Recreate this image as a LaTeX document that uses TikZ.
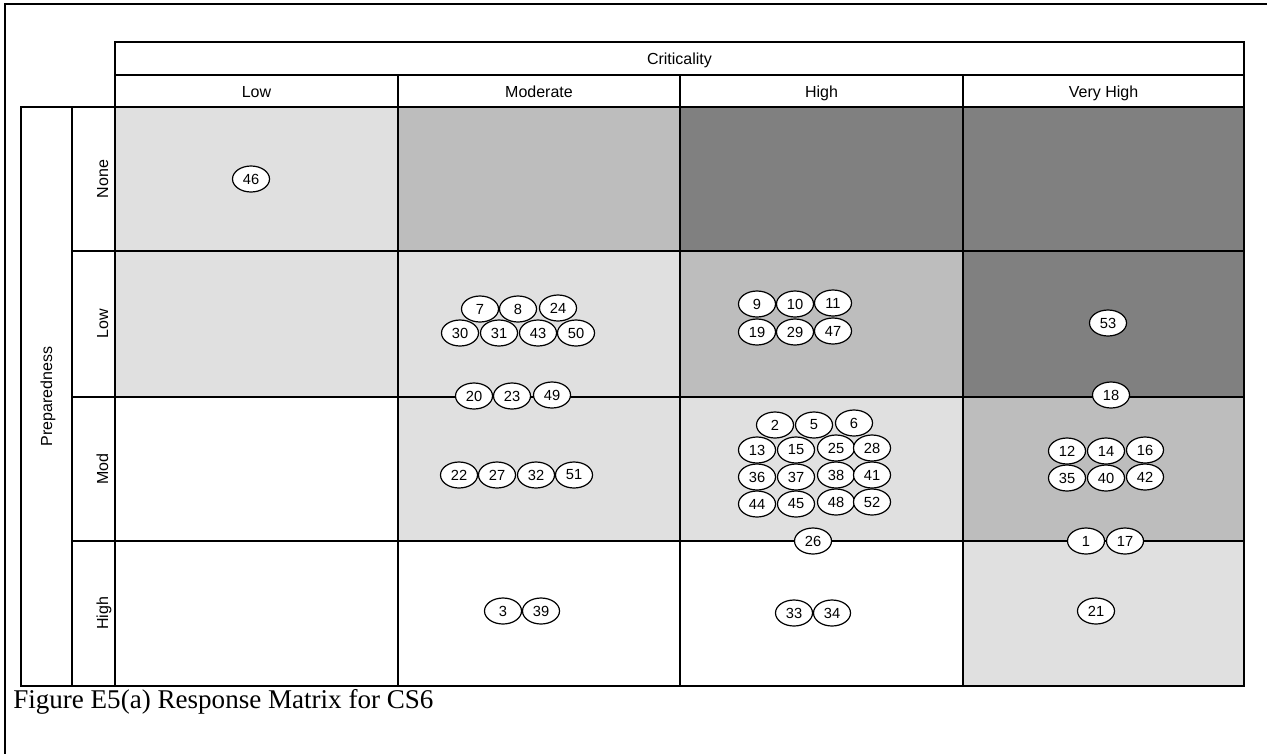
\documentclass[tikz,border=0pt]{standalone}
\usepackage{fontspec}
\setmainfont{Liberation Sans}
\newfontfamily\captionfont{Liberation Serif}
\usetikzlibrary{shapes.geometric}
\definecolor{dotgray}{HTML}{E0E0E0}
\definecolor{stripegray}{HTML}{BDBDBD}
\definecolor{shadegray}{HTML}{808080}

\begin{document}
\begin{tikzpicture}[
  x=0.75pt,y=-0.75pt,
  font=\fontsize{12}{14}\selectfont,
  grid/.style={line width=1.5pt},
  head/.style={anchor=base,inner sep=0pt},
  num/.style={ellipse,draw,line width=0.9pt,fill=white,minimum width=27.75pt,minimum height=19.5pt,inner sep=0pt,font=\fontsize{11}{13}\selectfont}
]
\useasboundingbox (0,0) rectangle (1267,754);
% shaded cells
\foreach \xa/\ya/\xb/\yb/\col in {115/107/398/251/dotgray, 398/107/680/251/stripegray, 680/107/963/251/shadegray, 963/107/1244/251/shadegray,
  115/251/398/397/dotgray, 398/251/680/397/dotgray, 680/251/963/397/stripegray, 963/251/1244/397/shadegray,
  398/397/680/541/dotgray, 680/397/963/541/dotgray, 963/397/1244/541/stripegray, 963/541/1244/686/dotgray}
  \fill[\col] (\xa,\ya) rectangle (\xb,\yb);
% frame and grid
\draw[grid] (1267,4) -- (5,4) -- (5,754);
\draw[grid] (115,42) rectangle (1244,686);
\draw[grid] (115,75) -- (1244,75);
\draw[grid] (21,107) rectangle (72,686);
\draw[grid] (72,107) -- (1244,107);
\draw[grid] (72,107) -- (72,686) -- (1244,686);
\foreach \y in {251,397,541}
  \draw[grid] (72,\y) -- (1244,\y);
\foreach \x in {398,680,963}
  \draw[grid] (\x,75) -- (\x,686);
% headings
\node[head] (crit) at (679.5,64) {Criticality};
\foreach \name/\x [count=\i] in {Low/256.5, Moderate/539, High/821.5, Very High/1103.5}
  \node[head] (col\i) at (\x,97) {\name};
\foreach \name/\y [count=\i] in {None/179, Low/324, Mod/469, High/613.5}
  \node[head,rotate=90] (row\i) at (108,\y) {\name};
\node[head,rotate=90] (prep) at (52,396.5) {Preparedness};
% case numbers
\foreach \n/\x/\y in {46/251/179,
  7/480/309, 8/518/309, 24/558/308, 30/460/333, 31/499/333, 43/538/333, 50/576/333,
  20/474/396, 23/512/396, 49/552/395,
  9/757/304, 10/795/304, 11/833/303, 19/757/332, 29/795/332, 47/833/331,
  53/1108/323, 18/1111/395,
  22/459/475, 27/497/475, 32/536/475, 51/574/475,
  2/775/425, 5/814/425, 6/854/423, 13/757/450, 15/796/450, 25/836/448, 28/872/448,
  36/757/477, 37/796/477, 38/836/475, 41/872/475, 44/757/504, 45/796/504, 48/836/502, 52/872/502,
  26/813/541,
  12/1067/451, 14/1106/451, 16/1145/450, 35/1067/478, 40/1106/478, 42/1145/477,
  1/1086/541, 17/1125/541,
  3/503/611, 39/541/611, 33/794/613, 34/832/613, 21/1096/611}
  \node[num] (c\n) at (\x,\y) {\n};
\node[anchor=base west,inner sep=0pt,font=\captionfont\fontsize{20.3}{24}\selectfont] (caption) at (13,708) {Figure E5(a) Response Matrix for CS6};
\end{tikzpicture}
\end{document}
